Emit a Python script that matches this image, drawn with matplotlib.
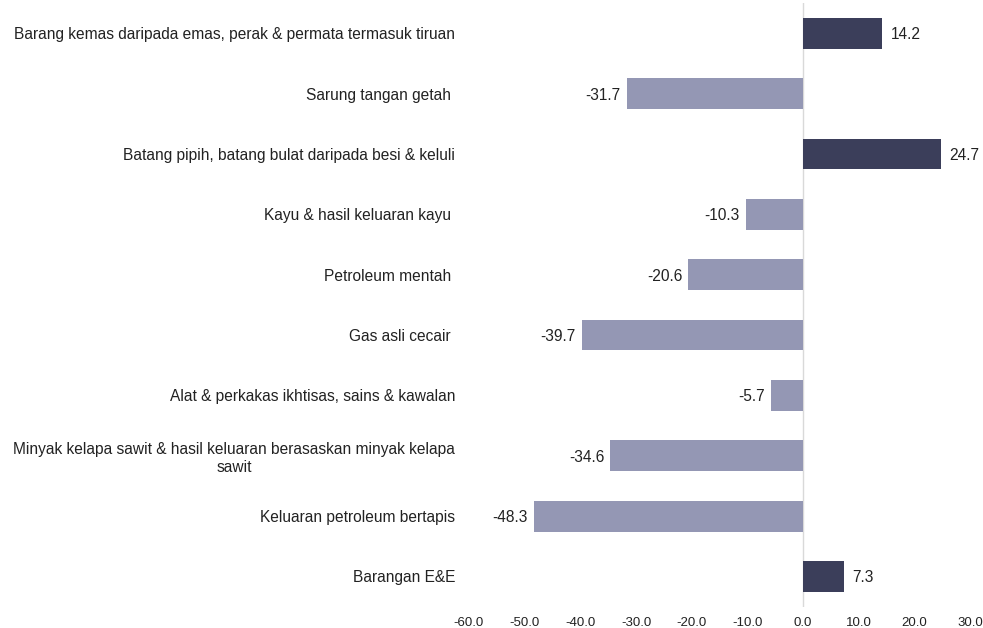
import matplotlib.pyplot as plt

plt.rcParams['font.family'] = ['Liberation Sans', 'DejaVu Sans']

# categories top to bottom
categories = [
    'Barang kemas daripada emas, perak & permata termasuk tiruan',
    'Sarung tangan getah ',
    'Batang pipih, batang bulat daripada besi & keluli',
    'Kayu & hasil keluaran kayu ',
    'Petroleum mentah ',
    'Gas asli cecair ',
    'Alat & perkakas ikhtisas, sains & kawalan',
    'Minyak kelapa sawit & hasil keluaran berasaskan minyak kelapa\nsawit',
    'Keluaran petroleum bertapis',
    'Barangan E&E',
]
values = [14.2, -31.7, 24.7, -10.3, -20.6, -39.7, -5.7, -34.6, -48.3, 7.3]
xticks = [-60, -50, -40, -30, -20, -10, 0, 10, 20, 30]

dark = '#3b3e5a'
light = '#9497b4'

fig = plt.figure(figsize=(9.83, 6.28), dpi=100)
ax = fig.add_axes([0.477, 0.034, 0.510, 0.961])

pos = list(range(len(categories)))
colors = [dark if v >= 0 else light for v in values]
ax.barh(pos, values, height=0.51, color=colors, zorder=2)
ax.axvline(0, color='#d9d9d9', lw=1, zorder=1)

for p, v in zip(pos, values):
    if v >= 0:
        ax.text(v + 1.6, p, f'{v:.1f}', va='center_baseline', ha='left', fontsize=11.2, color='#222222')
    else:
        ax.text(v - 1.1, p, f'{v:.1f}', va='center_baseline', ha='right', fontsize=11.2, color='#222222')

ax.set_xlim(-60, 30)
ax.set_ylim(len(categories) - 0.5, -0.5)
ax.set_xticks(xticks)
ax.set_xticklabels([f'{t:.1f}' for t in xticks], fontsize=9.5, color='#222222')
ax.set_yticks(pos)
ax.set_yticklabels(categories, fontsize=11.2, color='#222222', multialignment='center')
ax.tick_params(axis='both', length=0)
ax.tick_params(axis='y', pad=10)
ax.tick_params(axis='x', pad=7.5)
for s in ax.spines.values():
    s.set_visible(False)

fig.savefig('out.png', dpi=100)
